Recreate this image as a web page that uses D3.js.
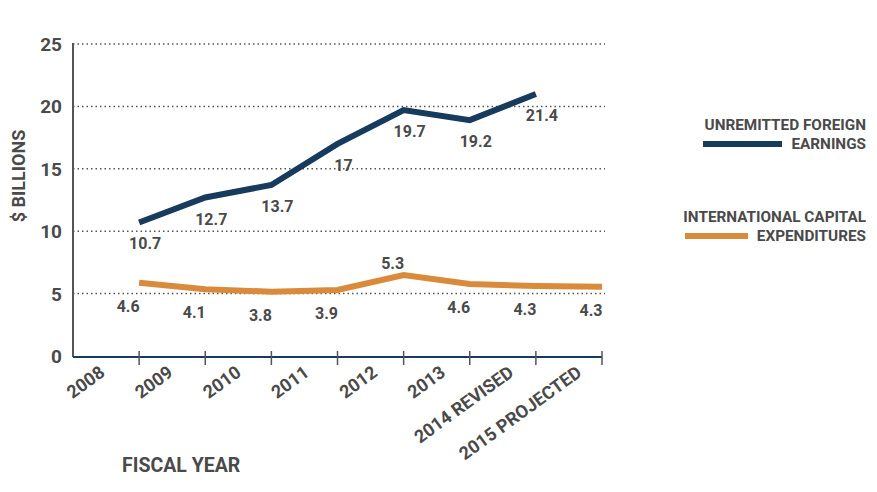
<!doctype html>
<html>
<head>
    <meta charset="UTF-8">
    <script type="text/javascript" src="https://cdn.jsdelivr.net/npm/d3@7"></script>
    <style>
        body { margin: 0; background: #fff; }
        text { font-family: Roboto, "Open Sans", sans-serif; font-weight: 700; fill: #4a4a4a; }
    </style>
</head>
<body>
<svg id="chart"></svg>
<script type="text/javascript">
    // chart data
    var years = ["2008", "2009", "2010", "2011", "2012", "2013", "2014 REVISED", "2015 PROJECTED"];
    var earnings = [10.7, 12.7, 13.7, 17, 19.7, 18.9, 21.0];
    var earningsLabels = ["10.7", "12.7", "13.7", "17", "19.7", "19.2", "21.4"];
    var capex = [5.87, 5.34, 5.15, 5.29, 6.49, 5.77, 5.61, 5.55];
    var capexLabels = ["4.6", "4.1", "3.8", "3.9", "5.3", "4.6", "4.3", "4.3"];
    var yTicks = [0, 5, 10, 15, 20, 25];

    var width = 877, height = 492;
    var blue = "#173b5c", orange = "#d98b3b";

    var svg = d3.select("#chart").attr("width", width).attr("height", height);

    var x = d3.scaleBand().domain(years).range([73, 602]);
    // tick labels are spread a little wider than the ticks
    var xLab = d3.scalePoint().domain(years).range([106, 583]);
    var y = d3.scaleLinear().domain([0, 25]).range([356, 44]);
    // points sit on the right edge of each band (where the ticks are)
    function px(i) { return x(years[i]) + x.bandwidth(); }

    // dotted grid
    svg.append("g").selectAll("line")
        .data(yTicks.slice(1))
        .enter().append("line")
        .attr("x1", 73).attr("x2", 605)
        .attr("y1", d => y(d)).attr("y2", d => y(d))
        .style("stroke", "#555").style("stroke-width", 1.5)
        .style("stroke-dasharray", "1.5,3");

    // y axis
    svg.append("line").attr("x1", 73).attr("x2", 73).attr("y1", 43).attr("y2", 357)
        .style("stroke", "#555").style("stroke-width", 2);
    svg.append("g").selectAll("text")
        .data(yTicks)
        .enter().append("text")
        .attr("x", 62).attr("y", d => y(d) + 7)
        .attr("text-anchor", "end")
        .style("font-size", "19px")
        .text(d => d);

    // x axis
    svg.append("line").attr("x1", 73).attr("x2", 602).attr("y1", 357).attr("y2", 357)
        .style("stroke", blue).style("stroke-width", 2);
    svg.append("g").selectAll("line")
        .data(years)
        .enter().append("line")
        .attr("x1", d => x(d) + x.bandwidth()).attr("x2", d => x(d) + x.bandwidth())
        .attr("y1", 351).attr("y2", 365)
        .style("stroke", "#555").style("stroke-width", 1.5);
    svg.append("g").selectAll("text")
        .data(years)
        .enter().append("text")
        .attr("text-anchor", "end")
        .attr("transform", d => "translate(" + xLab(d) + ",375) rotate(-36)")
        .style("font-size", "18px")
        .text(d => d);

    svg.append("text").attr("x", 122).attr("y", 472).style("font-size", "19.5px").text("FISCAL YEAR");
    svg.append("text").attr("transform", "translate(25,176) rotate(-90)")
        .attr("text-anchor", "middle").style("font-size", "18px").text("$ BILLIONS");

    // lines
    var line = d3.line().x((d, i) => px(i)).y(d => y(d));
    svg.append("path").datum(capex).attr("d", line)
        .style("fill", "none").style("stroke", orange).style("stroke-width", 6);
    svg.append("path").datum(earnings).attr("d", line)
        .style("fill", "none").style("stroke", blue).style("stroke-width", 6);

    // value labels
    svg.append("g").selectAll("text")
        .data(earnings)
        .enter().append("text")
        .attr("x", (d, i) => px(i) + 6).attr("y", d => y(d) + 27)
        .attr("text-anchor", "middle").style("font-size", "16px")
        .text((d, i) => earningsLabels[i]);
    svg.append("g").selectAll("text")
        .data(capex)
        .enter().append("text")
        .attr("x", (d, i) => px(i) - 11)
        .attr("y", (d, i) => i == 4 ? y(d) - 6 : y(d) + 29)
        .attr("text-anchor", "middle").style("font-size", "16px")
        .text((d, i) => capexLabels[i]);

    // legend
    var legend = [
        {lines: ["UNREMITTED FOREIGN", "EARNINGS"], color: blue, y: 130, x1: 703, x2: 782},
        {lines: ["INTERNATIONAL CAPITAL", "EXPENDITURES"], color: orange, y: 222, x1: 685, x2: 748}
    ];
    legend.forEach(function(l) {
        svg.append("text").attr("x", 866).attr("y", l.y).attr("text-anchor", "end")
            .style("font-size", "15.3px").text(l.lines[0]);
        svg.append("text").attr("x", 866).attr("y", l.y + 19).attr("text-anchor", "end")
            .style("font-size", "15.3px").text(l.lines[1]);
        svg.append("line").attr("x1", l.x1).attr("x2", l.x2).attr("y1", l.y + 14).attr("y2", l.y + 14)
            .style("stroke", l.color).style("stroke-width", 6);
    });
</script>
</body>
</html>
